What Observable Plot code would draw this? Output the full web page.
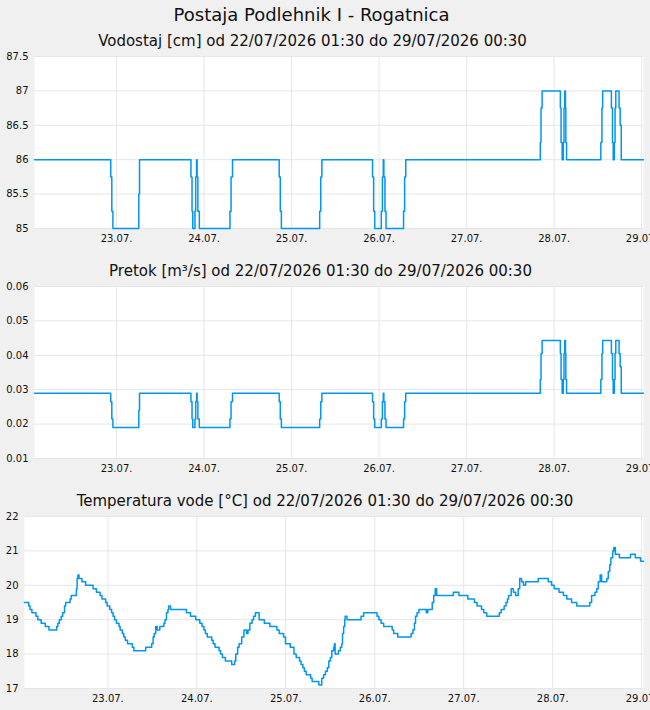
<!DOCTYPE html>
<html><head><meta charset="utf-8">
<script src="https://cdn.jsdelivr.net/npm/d3@7"></script>
<script src="https://cdn.jsdelivr.net/npm/@observablehq/plot@0.6"></script>
<style>
html,body{margin:0;padding:0;background:#f0f0f0;}
#root{position:relative;width:650px;height:710px;background:#f0f0f0;font-family:"DejaVu Sans",sans-serif;color:#111;overflow:hidden}
.t{position:absolute;white-space:nowrap;transform:translateX(-50%);line-height:normal;margin:0;font-weight:normal}
.panel{position:absolute;left:0}
.panel svg{display:block}
</style></head><body><div id="root"></div>
<script>
// ---- data (hours after 22/07/2026 01:30) ----
const mainTitle = "Postaja Podlehnik I - Rogatnica";
const titles = [
  "Vodostaj [cm] od 22/07/2026 01:30 do 29/07/2026 00:30",
  "Pretok [m³/s] od 22/07/2026 01:30 do 29/07/2026 00:30",
  "Temperatura vode [°C] od 22/07/2026 01:30 do 29/07/2026 00:30"
];
const startUTC = Date.UTC(2026, 6, 22, 1, 30);
const endUTC = Date.UTC(2026, 6, 29, 0, 30);
const dayTicks = ["2026-07-23", "2026-07-24", "2026-07-25", "2026-07-26", "2026-07-27", "2026-07-28", "2026-07-29"];

const levelHours = [0, 20.9, 21.2, 21.5, 28.6, 28.8, 42.9, 43.2, 43.4, 44.0, 44.2, 44.45, 44.6, 44.8, 45.2,
  53.6, 53.9, 54.3, 67.1, 67.4, 67.7, 78.2, 78.5, 78.8, 92.7, 93.0, 93.3, 95.1, 95.4, 95.65, 95.8, 96.1, 96.4,
  101.2, 101.5, 101.8, 138.7, 138.9, 139.2, 144.2, 144.4, 144.7, 145.0, 145.2, 145.4, 145.6, 145.7, 145.9,
  155.3, 155.6, 155.8, 158.2, 158.5, 158.7, 159.0, 159.2, 159.4, 160.3, 160.6, 160.9, 167];
const levelValues = [86, 85.75, 85.25, 85, 85.5, 86, 85.75, 85.25, 85, 85.25, 85.75, 86, 85.75, 85.25, 85,
  85.25, 85.75, 86, 85.75, 85.25, 85, 85.25, 85.75, 86, 85.75, 85.25, 85, 85.25, 85.75, 86, 85.75, 85.25, 85,
  85.25, 85.75, 86, 86.25, 86.75, 87, 86.75, 86.25, 86, 86.25, 86.75, 87, 86.75, 86.25, 86,
  86.25, 86.75, 87, 86.75, 86.25, 86, 86.25, 86.75, 87, 86.75, 86.5, 86, 86];
const flowValues = [0.029, 0.0265, 0.0215, 0.019, 0.024, 0.029, 0.0265, 0.0215, 0.019, 0.0215, 0.0265, 0.029, 0.0265, 0.0215, 0.019,
  0.0215, 0.0265, 0.029, 0.0265, 0.0215, 0.019, 0.0215, 0.0265, 0.029, 0.0265, 0.0215, 0.019, 0.0215, 0.0265, 0.029, 0.0265, 0.0215, 0.019,
  0.0215, 0.0265, 0.029, 0.033, 0.0405, 0.0443, 0.0405, 0.033, 0.029, 0.033, 0.0405, 0.0443, 0.0405, 0.033, 0.029,
  0.033, 0.0405, 0.0443, 0.0405, 0.033, 0.029, 0.033, 0.0405, 0.0443, 0.0405, 0.0367, 0.029, 0.029];

const temperature = [
  [0, 19.5], [1.15, 19.4], [1.5, 19.3], [2.0, 19.2], [3.1, 19.1], [3.6, 19.0], [4.5, 18.9], [5.6, 18.8], [6.6, 18.7],
  [8.7, 18.8], [9.0, 18.9], [9.4, 19.0], [9.9, 19.1], [10.3, 19.2], [10.8, 19.4], [11.1, 19.5], [12.3, 19.6], [12.6, 19.7],
  [14.0, 19.9], [14.2, 20.2], [14.4, 20.3], [14.7, 20.2], [15.5, 20.1], [16.5, 20.0], [18.5, 19.9], [19.4, 19.8],
  [20.4, 19.7], [20.9, 19.6], [21.9, 19.5], [22.3, 19.4], [23.0, 19.3], [23.5, 19.2], [23.9, 19.1], [24.3, 19.0],
  [24.8, 18.9], [25.5, 18.8], [25.8, 18.7], [26.4, 18.6], [26.8, 18.5], [27.2, 18.4], [27.8, 18.3], [29.1, 18.2],
  [29.5, 18.1], [32.7, 18.2], [34.3, 18.3], [34.7, 18.5], [35.0, 18.6], [35.4, 18.8], [35.8, 18.7], [36.5, 18.8],
  [37.6, 18.9], [37.9, 19.0], [38.3, 19.2], [38.7, 19.3], [38.9, 19.4], [39.4, 19.3], [43.7, 19.2], [44.8, 19.1],
  [46.2, 19.0], [47.3, 18.9], [47.9, 18.8], [48.4, 18.7], [48.8, 18.6], [49.3, 18.5], [50.5, 18.4], [50.9, 18.3],
  [51.4, 18.2], [52.5, 18.1], [52.9, 18.0], [53.4, 17.9], [54.2, 17.8], [55.9, 17.7], [56.7, 17.8], [57.0, 18.0],
  [57.5, 18.2], [57.9, 18.3], [58.6, 18.5], [59.2, 18.7], [59.9, 18.6], [60.3, 18.7], [60.8, 18.9], [61.4, 19.0],
  [61.8, 19.1], [62.3, 19.2], [63.3, 19.0], [64.7, 18.9], [66.2, 18.8], [68.1, 18.7], [68.7, 18.6], [69.9, 18.5],
  [70.4, 18.3], [71.7, 18.2], [72.7, 18.0], [73.3, 17.9], [74.2, 17.8], [74.6, 17.7], [75.1, 17.6], [75.5, 17.5],
  [76.0, 17.4], [77.2, 17.3], [77.6, 17.2], [79.4, 17.1], [80.2, 17.3], [80.7, 17.4], [81.2, 17.5], [81.7, 17.6],
  [82.1, 17.8], [82.5, 17.9], [82.9, 18.1], [83.4, 18.2], [83.6, 18.3], [83.8, 18.0], [84.7, 18.1], [85.2, 18.2],
  [85.6, 18.3], [85.8, 18.6], [86.1, 18.8], [86.4, 19.0], [86.5, 19.1], [87.0, 19.0], [90.8, 19.1], [91.5, 19.2],
  [95.1, 19.1], [95.6, 19.0], [96.2, 18.9], [96.9, 18.8], [99.2, 18.7], [99.6, 18.6], [100.7, 18.5], [104.3, 18.6],
  [104.8, 18.7], [105.2, 18.9], [105.5, 19.1], [105.9, 19.2], [106.4, 19.3], [108.4, 19.2], [108.8, 19.3],
  [110.0, 19.5], [110.4, 19.7], [110.8, 19.9], [111.2, 19.7], [115.7, 19.8], [117.2, 19.7], [119.6, 19.6],
  [121.4, 19.5], [122.1, 19.4], [123.3, 19.3], [123.9, 19.2], [124.7, 19.1], [128.1, 19.2], [128.6, 19.3],
  [129.4, 19.4], [129.9, 19.5], [130.3, 19.6], [130.6, 19.7], [131.3, 19.9], [131.9, 19.8], [132.5, 19.7],
  [133.2, 19.9], [133.6, 20.2], [134.1, 20.1], [134.6, 20.0], [135.2, 20.1], [138.6, 20.2], [141.3, 20.1],
  [142.2, 20.0], [142.9, 19.9], [144.2, 19.8], [145.4, 19.7], [146.3, 19.6], [147.6, 19.5], [149.0, 19.4],
  [152.5, 19.5], [153.0, 19.7], [153.9, 19.8], [154.4, 19.9], [154.8, 20.1], [155.3, 20.3], [155.7, 20.1],
  [157.1, 20.2], [157.5, 20.4], [157.9, 20.6], [158.2, 20.8], [158.7, 21.0], [159.0, 21.1], [159.4, 20.9],
  [160.5, 20.8], [163.5, 20.9], [164.8, 20.8], [166.2, 20.7], [167, 20.7]
];

const levelTicks = [85, 85.5, 86, 86.5, 87, 87.5];
const flowTicks = [0.01, 0.02, 0.03, 0.04, 0.05, 0.06];
const tempTicks = [17, 18, 19, 20, 21, 22];

// ---- build ----
const toDate = h => new Date(startUTC + h * 3600000);
const levelData = levelHours.map((h, i) => ({date: toDate(h), value: levelValues[i]}));
const flowData = levelHours.map((h, i) => ({date: toDate(h), value: flowValues[i]}));
const tempData = temperature.map(([h, v]) => ({date: toDate(h), value: v}));
const days = dayTicks.map(s => new Date(s + "T00:00:00Z"));

const root = document.getElementById("root");
function addText(txt, cx, top, size) {
  const d = document.createElement("div");
  d.className = "t";
  d.textContent = txt;
  d.style.left = cx + "px";
  d.style.top = top + "px";
  d.style.fontSize = size + "px";
  root.appendChild(d);
}

function panel({data, yDomain, yTicks, yFormat, marginLeft, top, height, marginBottom}) {
  const svg = Plot.plot({
    width: 650, height, marginTop: 10, marginBottom, marginLeft, marginRight: 7,
    style: {background: "transparent", fontFamily: "DejaVu Sans", fontSize: "10px", color: "#111", overflow: "visible"},
    x: {type: "utc", domain: [new Date(startUTC), new Date(endUTC)]},
    y: {domain: yDomain},
    marks: [
      Plot.frame({fill: "white", stroke: "none"}),
      Plot.gridX(days, {stroke: "#e6e6e6", strokeOpacity: 1}),
      Plot.gridY(yTicks, {stroke: "#e6e6e6", strokeOpacity: 1}),
      Plot.line(data, {x: "date", y: "value", curve: "step-after", stroke: "#0096f0", strokeWidth: 1.5}),
      Plot.axisX(days, {tickSize: 0, tickPadding: 6, tickFormat: d3.utcFormat("%d.%m."), label: null, fontSize: 10, fill: "#111"}),
      Plot.axisY(yTicks, {tickSize: 0, tickPadding: 6, tickFormat: yFormat, label: null, fontSize: 10, fill: "#111"})
    ]
  });
  const wrap = document.createElement("div");
  wrap.className = "panel";
  wrap.style.top = top + "px";
  wrap.appendChild(svg);
  root.appendChild(wrap);
}

panel({data: levelData, yDomain: [85, 87.5], yTicks: levelTicks, yFormat: d => String(d), marginLeft: 34, top: 46, height: 206, marginBottom: 24});
panel({data: flowData, yDomain: [0.01, 0.06], yTicks: flowTicks, yFormat: d3.format(".2f"), marginLeft: 34, top: 276, height: 206, marginBottom: 24});
panel({data: tempData, yDomain: [17, 22], yTicks: tempTicks, yFormat: d => String(d), marginLeft: 24, top: 506, height: 204, marginBottom: 22});

addText(mainTitle, 311.5, 4.3, 18);
addText(titles[0], 312.5, 32.1, 15);
addText(titles[1], 320.5, 261.8, 15);
addText(titles[2], 325, 491.8, 15);
</script></body></html>
